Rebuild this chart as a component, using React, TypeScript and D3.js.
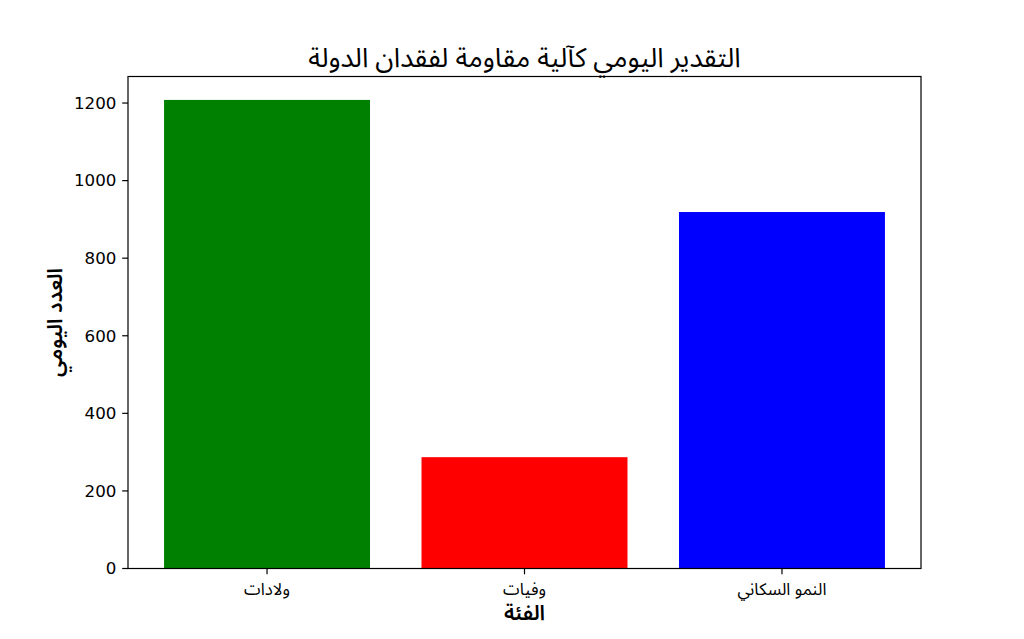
import React from "react";
import * as d3 from "d3";

const categories = ["ولادات", "وفيات", "النمو السكاني"];
const values = [1208, 287, 919];
const colors = ["#008000", "#ff0000", "#0000ff"];
const yTicks = [0, 200, 400, 600, 800, 1000, 1200];
const title = "التقدير اليومي كآلية مقاومة لفقدان الدولة";
const xLabel = "الفئة";
const yLabel = "العدد اليومي";

export default function App() {
  const W = 1024, H = 639;
  const left = 128, right = 921, top = 76.5, bottom = 568.5;
  const n = categories.length;
  const x = d3.scaleLinear().domain([-0.4 - 0.05 * (n - 0.2), n - 1 + 0.4 + 0.05 * (n - 0.2)]).range([left, right]);
  const ymax = d3.max(values)! * 1.05;
  const y = d3.scaleLinear().domain([0, ymax]).range([bottom, top]);
  const font = "DejaVu Sans, sans-serif";
  const arabic = "'Noto Sans Arabic', 'Noto Sans Arabic UI', 'DejaVu Sans', sans-serif";
  return (
    <svg width={W} height={H} style={{ position: "absolute", left: 0, top: 0, background: "#fff" }} fontFamily={font}>
      <rect x={0} y={0} width={W} height={H} fill="#fff" />
      {values.map((v, i) => (
        <rect key={i} x={x(i - 0.4)} y={y(v)} width={x(i + 0.4) - x(i - 0.4)} height={y(0) - y(v)} fill={colors[i]} />
      ))}
      <rect x={left} y={top} width={right - left} height={bottom - top} fill="none" stroke="#000" strokeWidth={1.2} />
      {yTicks.map((t) => (
        <g key={t} transform={`translate(0,${y(t)})`}>
          <line x1={left - 5.8} x2={left} stroke="#000" strokeWidth={1.2} />
          <text x={left - 11.6} dy="0.35em" textAnchor="end" fontSize={16.7} fill="#000">{t}</text>
        </g>
      ))}
      {categories.map((c, i) => (
        <g key={c} transform={`translate(${x(i)},${bottom})`}>
          <line y1={0} y2={5.8} stroke="#000" strokeWidth={1.2} />
          <text y={26} textAnchor="middle" fontSize={16.8} fill="#000" fontFamily={arabic}>{c}</text>
        </g>
      ))}
      <text x={(left + right) / 2} y={620} textAnchor="middle" fontSize={21} fontWeight={600} fill="#000" fontFamily={arabic}>{xLabel}</text>
      <text transform={`translate(62,${(top + bottom) / 2}) rotate(-90)`} textAnchor="middle" fontSize={21} fontWeight={600} fill="#000" fontFamily={arabic}>{yLabel}</text>
      <text x={(left + right) / 2} y={67} textAnchor="middle" fontSize={27} fill="#000" fontFamily={arabic}>{title}</text>
    </svg>
  );
}
